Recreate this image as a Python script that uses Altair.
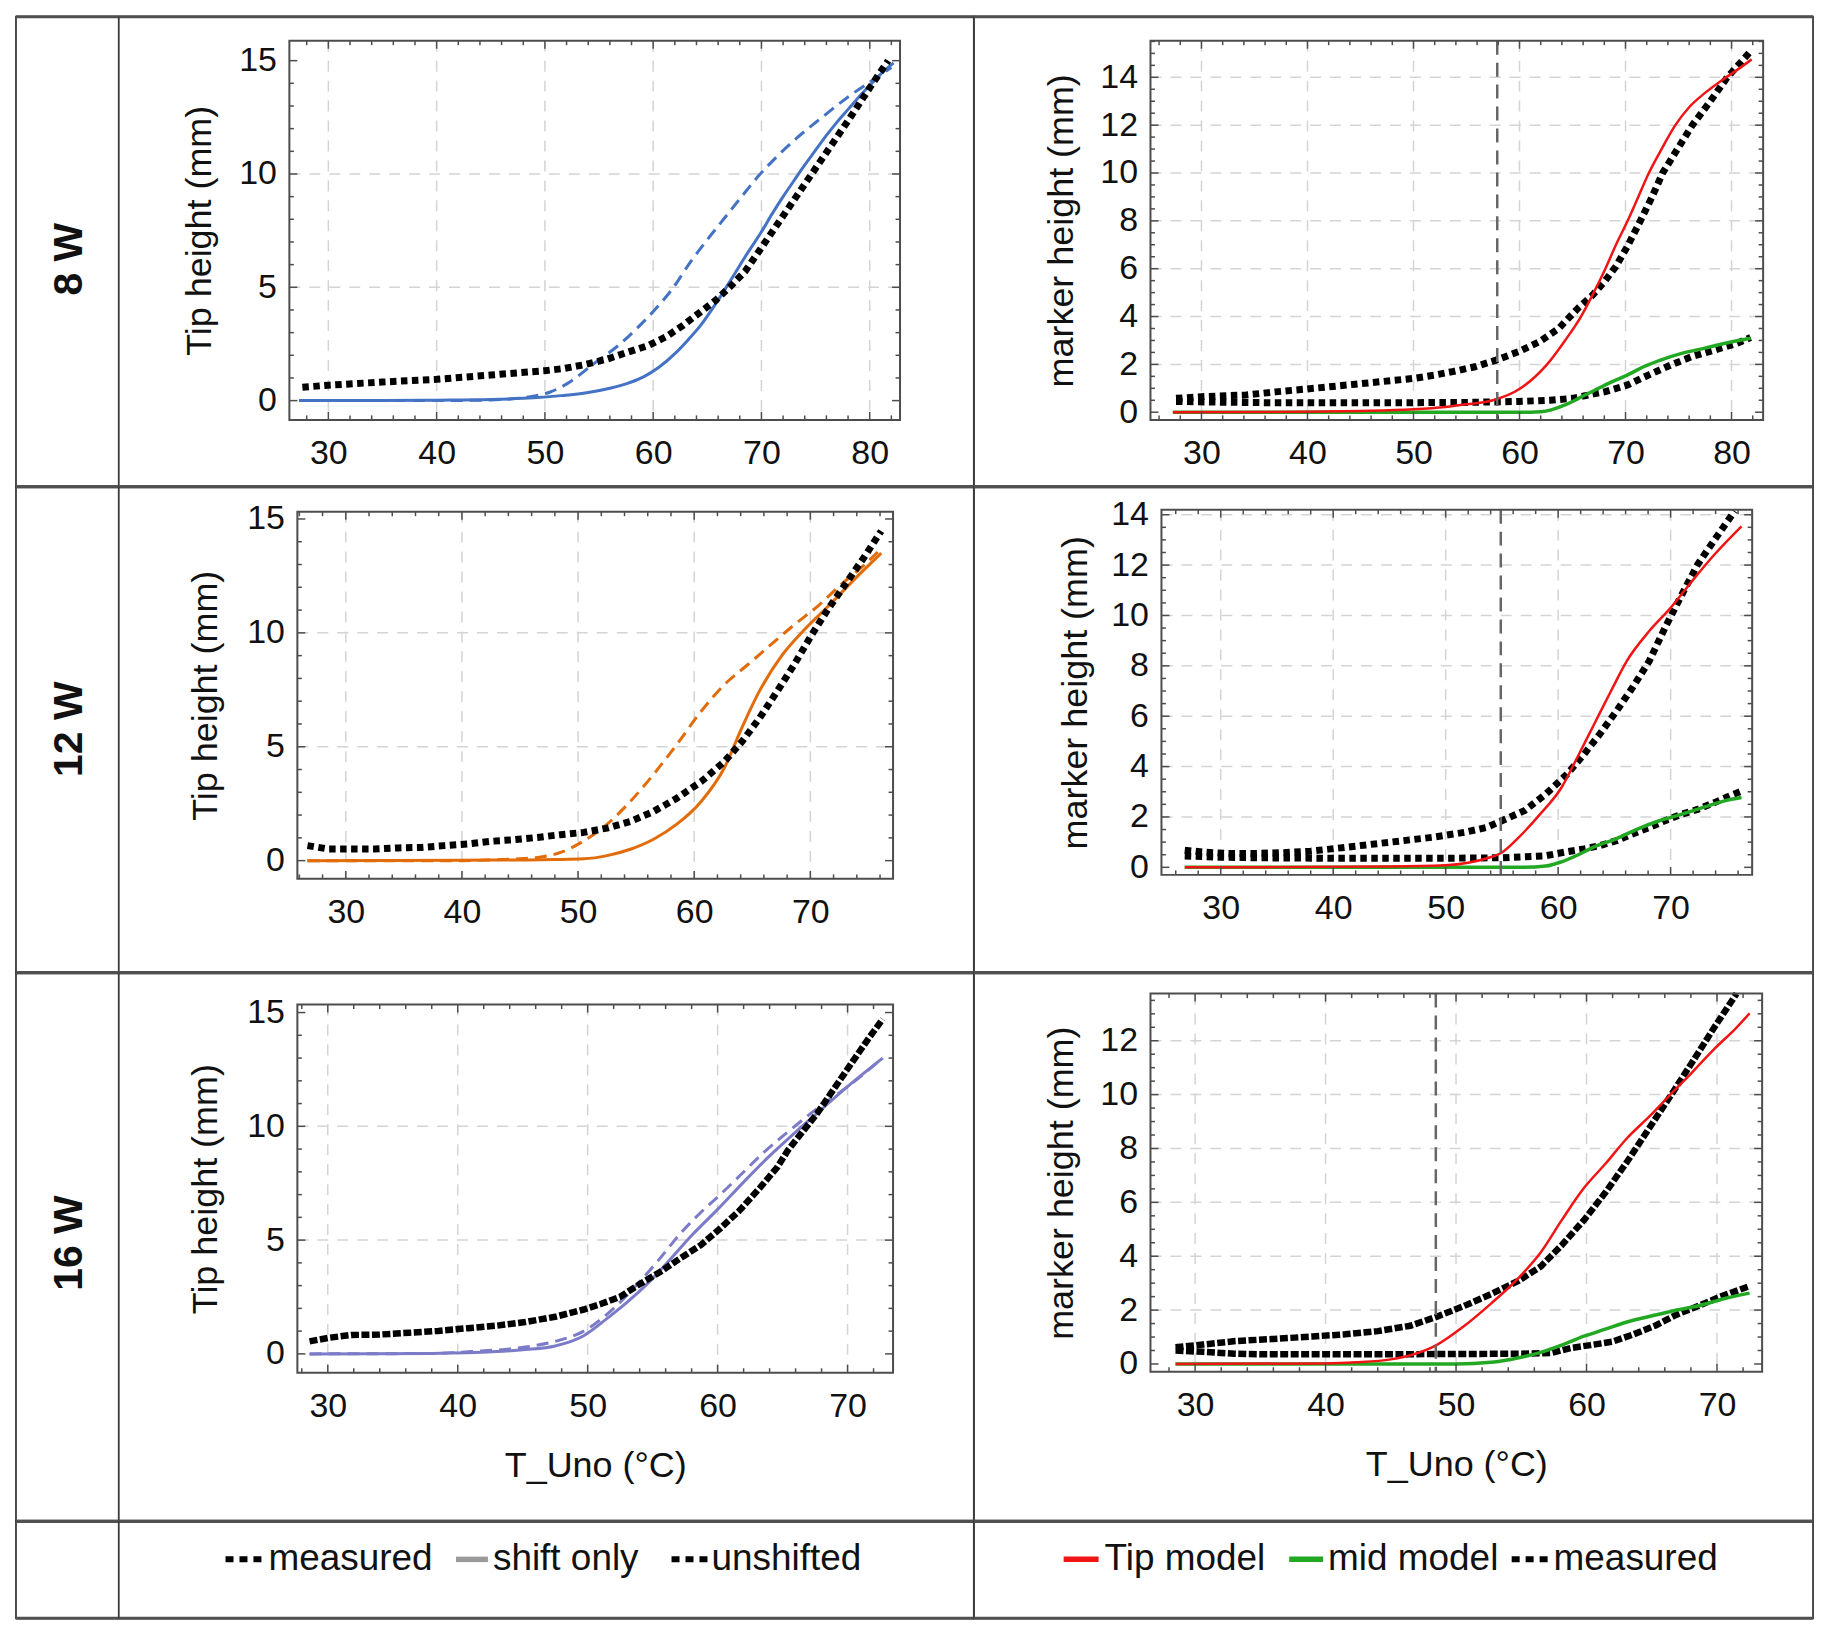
import altair as alt
import pandas as pd

FONT = "Liberation Sans"
INK = "#111111"
FRAME = "#4d4d4d"
TABLE = "#3a3a3a"
GRID = "#d4d4d4"
BLUE = "#4472C4"
ORANGE = "#E26B0A"
PURPLE = "#7B7BC8"
RED = "#F01414"
GREEN = "#22A822"
VLINE = "#666666"

# ---------------- row labels / legend text ----------------
ROW_LABELS = ["8 W", "12 W", "16 W"]
LEFT_LEGEND = ["measured", "shift only", "unshifted"]
RIGHT_LEGEND = ["Tip model", "mid model", "measured"]

# ---------------- tick labels ----------------
XLAB_8 = [30, 40, 50, 60, 70, 80]
XLAB_12 = [30, 40, 50, 60, 70]
XLAB_16 = [30, 40, 50, 60, 70]
YLAB_TIP = [0, 5, 10, 15]
YLAB_MARK14 = [0, 2, 4, 6, 8, 10, 12, 14]
YLAB_MARK12 = [0, 2, 4, 6, 8, 10, 12]

# ---------------- 8 W ----------------
T8L_meas = [27.6, 30, 35, 40, 45, 50, 51.8, 53.8, 55.8, 57.6, 59.5, 61.2, 62.7, 64.2, 65.8, 67.1, 68.5, 70, 72, 74, 76, 78, 80, 81.7]
H8L_meas = [0.59, 0.68, 0.82, 0.94, 1.13, 1.32, 1.42, 1.6, 1.84, 2.13, 2.42, 2.82, 3.3, 3.85, 4.44, 5.02, 5.71, 6.75, 8.15, 9.55, 10.95, 12.35, 13.8, 15.0]
T8_shift = [27.3, 35, 40, 45, 48, 51.5, 54, 56.1, 57.5, 59.15, 60.5, 62.2, 63.3, 64.4, 65.9, 67.4, 68.7, 70, 71, 72, 73, 74, 75, 76, 77, 78, 79, 80, 81, 82.2]
H8_shift = [0, 0, 0.02, 0.05, 0.1, 0.22, 0.36, 0.56, 0.74, 1.06, 1.46, 2.16, 2.72, 3.33, 4.36, 5.5, 6.5, 7.45, 8.25, 9.0, 9.7, 10.4, 11.05, 11.7, 12.3, 12.85, 13.4, 13.9, 14.4, 14.9]
T8_unsh = [27.3, 40, 45, 47, 49, 50.5, 52.1, 54.55, 57, 58.5, 60.4, 61.8, 63.45, 65, 66.5, 68, 69.8, 71.5, 73.3, 75.6, 78, 80.3, 82]
H8_unsh = [0, 0, 0.03, 0.08, 0.2, 0.38, 0.76, 1.64, 2.52, 3.19, 4.14, 4.95, 6.12, 7.1, 8.0, 8.9, 9.95, 10.8, 11.6, 12.5, 13.4, 14.15, 14.7]

T8R_tip = [27.6, 30, 34.2, 37, 39.9, 42, 44.5, 47, 50.1, 52, 53.7, 55.8, 57.8, 59.9, 61.9, 63.7, 65.5, 66.9, 68, 69.1, 70.2, 71.4, 72.5, 73.5, 74.9, 76.3, 78, 79.6, 81.7]
H8R_tip = [0.58, 0.65, 0.72, 0.85, 0.97, 1.06, 1.17, 1.28, 1.42, 1.55, 1.7, 1.9, 2.18, 2.53, 2.95, 3.5, 4.34, 4.9, 5.45, 6.1, 6.95, 8.0, 9.0, 10.0, 11.0, 12.0, 13.0, 14.0, 15.04]
T8R_mid = [27.6, 32, 36, 40, 45, 50, 55, 59.9, 62.9, 65, 66.5, 68.1, 70.2, 72.2, 74.3, 76.3, 78.4, 80.5, 81.8]
H8R_mid = [0.45, 0.42, 0.4, 0.4, 0.4, 0.4, 0.41, 0.45, 0.5, 0.58, 0.72, 0.86, 1.14, 1.56, 1.98, 2.33, 2.6, 2.88, 3.12]
T8R_tipm = [27.3, 40, 45, 50, 53, 55, 57.5, 60.1, 62.6, 64.3, 65.8, 67, 68.1, 69.1, 70.2, 71.2, 72.2, 73.4, 74.7, 76, 77.5, 79, 80.5, 81.9]
H8R_tipm = [0, 0.02, 0.05, 0.12, 0.22, 0.33, 0.5, 1.0, 2.0, 3.0, 4.0, 5.0, 6.0, 7.0, 8.0, 9.0, 10.0, 11.0, 12.0, 12.75, 13.35, 13.85, 14.3, 14.75]
T8R_midm = [27.3, 55, 61, 62, 63, 64, 65, 66, 67, 68.6, 70.2, 71.7, 73.3, 75.3, 77.4, 79.4, 81.8]
H8R_midm = [0, 0, 0, 0.02, 0.1, 0.25, 0.45, 0.68, 0.9, 1.25, 1.56, 1.9, 2.18, 2.46, 2.67, 2.88, 3.09]
V8 = [57.9]

# ---------------- 12 W ----------------
T12L_meas = [26.7, 28.5, 30.5, 32.5, 34.5, 36.5, 38.5, 40.5, 42.5, 44.5, 46.5, 48.5, 50.5, 52.5, 54.5, 56.5, 58.5, 60.6, 62.6, 64.1, 65.6, 67.1, 68.6, 70.1, 71.6, 73.1, 74.6, 76.1]
H12L_meas = [0.66, 0.51, 0.51, 0.51, 0.56, 0.58, 0.66, 0.73, 0.85, 0.92, 1.02, 1.14, 1.24, 1.43, 1.72, 2.16, 2.74, 3.47, 4.35, 5.22, 6.24, 7.4, 8.6, 9.9, 11.1, 12.2, 13.3, 14.47]
T12_shift = [26.7, 40, 45, 48, 50.5, 52.5, 54.5, 56.5, 58.5, 60.6, 62.6, 64.1, 65.6, 67.6, 69.6, 71.6, 73.6, 76.1]
H12_shift = [0, 0.02, 0.03, 0.05, 0.08, 0.22, 0.5, 0.94, 1.6, 2.6, 4.08, 5.83, 7.43, 9.04, 10.2, 11.2, 12.25, 13.5]
T12_unsh = [26.7, 40, 42.5, 44.5, 46.5, 48.5, 50.5, 52.5, 54.5, 56.5, 58.5, 60.6, 62.6, 64.6, 66.6, 68.6, 70.7, 72.6, 74.6, 75.8]
H12_unsh = [0, 0, 0.03, 0.07, 0.14, 0.36, 0.87, 1.6, 2.6, 3.79, 5.1, 6.56, 7.73, 8.6, 9.48, 10.35, 11.2, 12.1, 12.96, 13.55]

T12R_tip = [26.8, 28.5, 30.5, 33, 35.5, 38, 41, 44.9, 48.8, 51.7, 53.6, 55.0, 57.0, 58.9, 60.8, 62.3, 63.7, 65.2, 66.6, 68.1, 69.5, 71.0, 72.4, 73.9, 75.7]
H12R_tip = [0.68, 0.6, 0.55, 0.55, 0.58, 0.64, 0.79, 0.99, 1.19, 1.39, 1.58, 1.85, 2.25, 2.91, 3.7, 4.49, 5.29, 6.21, 7.13, 8.19, 9.51, 10.83, 12.02, 13.0, 14.15]
T12R_mid = [26.8, 30, 35, 40, 45, 50, 55, 58.9, 60.8, 62.3, 63.7, 65.2, 66.6, 68.1, 69.5, 71.0, 72.4, 73.9, 75.6, 76.4]
H12R_mid = [0.45, 0.4, 0.37, 0.36, 0.36, 0.36, 0.38, 0.46, 0.62, 0.73, 0.86, 1.06, 1.32, 1.58, 1.85, 2.11, 2.3, 2.57, 2.9, 3.04]
T12R_tipm = [26.8, 45, 50, 52, 53.6, 55.0, 56.5, 58.4, 60.3, 61.7, 63.2, 64.7, 66.1, 68.1, 70.0, 71.9, 73.9, 76.3]
H12R_tipm = [0, 0.03, 0.08, 0.18, 0.35, 0.59, 1.19, 2.11, 3.17, 4.36, 5.68, 7.0, 8.19, 9.38, 10.3, 11.36, 12.42, 13.54]
T12R_midm = [26.8, 50, 57, 58.9, 60.3, 61.7, 63.2, 65.2, 67.1, 69.0, 71.0, 72.9, 74.8, 76.3]
H12R_midm = [0, 0, 0, 0.05, 0.22, 0.48, 0.81, 1.14, 1.53, 1.85, 2.11, 2.38, 2.64, 2.77]
V12 = [54.9]

# ---------------- 16 W ----------------
T16L_meas = [28.6, 30.0, 31.8, 34.0, 36.3, 38.5, 40.8, 43.0, 45.2, 47.5, 49.7, 51.0, 52.5, 54.1, 55.6, 57.1, 58.7, 60.2, 61.7, 63.3, 64.6, 65.4, 67.7, 69.9, 71.7, 72.7]
H16L_meas = [0.55, 0.7, 0.83, 0.85, 0.93, 1.01, 1.13, 1.24, 1.4, 1.63, 1.95, 2.19, 2.51, 3.1, 3.61, 4.19, 4.78, 5.51, 6.31, 7.33, 8.21, 8.94, 10.6, 12.44, 13.93, 14.71]
T16_shift = [28.6, 38, 43.0, 45.2, 47.5, 49.7, 51.5, 53.0, 54.8, 56.5, 58.0, 60.0, 62.0, 64.0, 66.0, 68.0, 69.9, 72.7]
H16_shift = [0, 0.02, 0.1, 0.19, 0.35, 0.8, 1.56, 2.25, 3.2, 4.25, 5.2, 6.35, 7.55, 8.7, 9.75, 10.75, 11.7, 13.0]
T16_unsh = [28.6, 38, 41, 45.2, 47.5, 49.7, 52.0, 54.2, 55.35, 57.15, 58.68, 60.2, 61.74, 63.55, 65.4, 67.7, 69.9, 72.7]
H16_unsh = [0, 0.02, 0.1, 0.3, 0.55, 1.0, 2.0, 3.3, 4.05, 5.3, 6.2, 7.0, 7.85, 8.85, 9.75, 10.8, 11.7, 13.0]

T16R_tip = [28.5, 30.6, 33.1, 36.0, 39.0, 41.5, 44.0, 46.5, 48.5, 50.6, 52.7, 54.8, 56.5, 58.1, 59.8, 61.5, 63.1, 64.8, 66.5, 68.1, 69.8, 71.5]
H16R_tip = [0.62, 0.72, 0.85, 0.93, 1.02, 1.1, 1.22, 1.42, 1.75, 2.15, 2.6, 3.09, 3.62, 4.41, 5.34, 6.4, 7.5, 8.75, 10.0, 11.2, 12.5, 13.75]
T16R_mid = [28.5, 30.6, 33, 35, 40, 45, 50, 55, 57.3, 58.9, 60.3, 62.0, 63.6, 65.3, 66.9, 68.6, 70.2, 72.5]
H16R_mid = [0.5, 0.45, 0.38, 0.36, 0.36, 0.36, 0.37, 0.38, 0.41, 0.6, 0.7, 0.83, 1.1, 1.43, 1.83, 2.16, 2.49, 2.89]
T16R_tipm = [28.5, 40, 42.3, 45.0, 46.7, 48.5, 50.6, 52.7, 54.8, 56.5, 58.1, 59.8, 61.5, 63.1, 64.8, 66.5, 68.1, 69.8, 71.5, 72.5]
H16R_tipm = [0, 0.02, 0.06, 0.17, 0.35, 0.7, 1.4, 2.25, 3.2, 4.15, 5.34, 6.53, 7.46, 8.38, 9.18, 10.04, 10.83, 11.7, 12.49, 13.02]
T16R_midm = [28.5, 45, 50, 52.7, 54.8, 56.5, 58.1, 59.8, 61.5, 63.1, 64.8, 66.5, 68.6, 70.6, 72.5]
H16R_midm = [0, 0, 0, 0.06, 0.23, 0.43, 0.7, 1.03, 1.3, 1.56, 1.76, 1.96, 2.16, 2.43, 2.63]
V16 = [48.45]


def minor_ticks(lo, hi, step, major_step):
    out = []
    k = int(lo // step) - 1
    while k * step < hi + step:
        v = round(k * step, 3)
        if lo < v < hi and abs(v / major_step - round(v / major_step)) > 1e-6:
            out.append(v)
        k += 1
    return out


def series(xs, ys, X, Y, color, width, dash=None, interp="monotone"):
    kw = dict(color=color, strokeWidth=width, interpolate=interp)
    if dash:
        kw["strokeDash"] = dash
    return alt.Chart(pd.DataFrame({"x": xs, "y": ys})).mark_line(**kw).encode(x=X, y=Y)


def table_edges(CW, H, divider):
    """Heavier horizontal table rules and the label-column divider of a cell."""
    d = pd.DataFrame({"a": [0]})
    out = [
        alt.Chart(d).mark_rule(color="#505050", strokeWidth=3.2).encode(
            x=alt.value(0), x2=alt.value(CW), y=alt.value(0)),
        alt.Chart(d).mark_rule(color="#505050", strokeWidth=3.2).encode(
            x=alt.value(0), x2=alt.value(CW), y=alt.value(H)),
    ]
    if divider:
        out.append(alt.Chart(d).mark_rule(color=TABLE, strokeWidth=1.8).encode(
            x=alt.value(103), y=alt.value(0), y2=alt.value(H)))
    return out


def row_label(label, label_y):
    return [alt.Chart(pd.DataFrame({"t": [label]})).mark_text(
        font=FONT, fontSize=41, fontWeight="bold", angle=270, align="center",
        baseline="middle", color=INK).encode(
        text="t:N", x=alt.value(54), y=alt.value(label_y))]


def panel(CW, CH, box, xdom, ydom, xlab, ylab, ymaj_step, ymin_step, ygrid,
          ytitle, ytx, xtitle, draw, extras=(), divider=False):
    x0, x1, y0, y1 = box
    xs = alt.Scale(domain=xdom, range=[x0, x1], nice=False, zero=False)
    ys = alt.Scale(domain=ydom, range=[y1, y0], nice=False, zero=False)
    common = dict(grid=False, ticks=False, tickSize=0, domain=False, labelFont=FONT,
                  labelFontSize=34, labelColor=INK, labelFlush=False,
                  labelOverlap=False, format="d")
    ttl = dict(titleFont=FONT, titleFontSize=36, titleFontWeight="normal", titleColor=INK,
               titleAlign="center", titleBaseline="middle")
    if xtitle:
        ax = alt.Axis(values=xlab, labelPadding=17, offset=-(CH - y1), title=xtitle,
                      titleX=(x0 + x1) / 2, titleY=93, **ttl, **common)
    else:
        ax = alt.Axis(values=xlab, labelPadding=17, offset=-(CH - y1), title=None,
                      **common)
    ay = alt.Axis(values=ylab, labelPadding=13, offset=-x0, title=ytitle, titleX=ytx,
                  titleY=(y0 + y1) / 2, titleAngle=270, **ttl, **common)
    X = alt.X("x:Q", scale=xs, axis=ax)
    Y = alt.Y("y:Q", scale=ys, axis=ay)

    gstyle = dict(color=GRID, strokeWidth=1.5, strokeDash=[11, 9])
    layers = [
        alt.Chart(pd.DataFrame({"x": xlab})).mark_rule(**gstyle).encode(
            x=X, y=alt.value(y0), y2=alt.value(y1)),
        alt.Chart(pd.DataFrame({"y": ygrid})).mark_rule(**gstyle).encode(
            y=Y, x=alt.value(x0), x2=alt.value(x1)),
    ]
    layers += draw(X, Y, y0, y1)

    xmin = minor_ticks(xdom[0], xdom[1], 2, 10)
    ymin = minor_ticks(ydom[0], ydom[1], ymin_step, ymaj_step)
    for vals, L in ((xlab, 8), (xmin, 4.5)):
        b = alt.Chart(pd.DataFrame({"x": vals})).mark_rule(color=FRAME, strokeWidth=1.5)
        layers.append(b.encode(x=X, y=alt.value(y1), y2=alt.value(y1 - L)))
        layers.append(b.encode(x=X, y=alt.value(y0), y2=alt.value(y0 + L)))
    for vals, L in ((ylab, 8), (ymin, 4.5)):
        b = alt.Chart(pd.DataFrame({"y": vals})).mark_rule(color=FRAME, strokeWidth=1.5)
        layers.append(b.encode(y=Y, x=alt.value(x0), x2=alt.value(x0 + L)))
        layers.append(b.encode(y=Y, x=alt.value(x1), x2=alt.value(x1 - L)))
    layers.append(alt.Chart(pd.DataFrame({"a": [0]})).mark_rect(
        filled=False, stroke=FRAME, strokeWidth=2).encode(
        x=alt.value(x0), x2=alt.value(x1), y=alt.value(y0), y2=alt.value(y1)))
    layers += list(extras)
    layers += table_edges(CW, CH, divider)

    return alt.layer(*layers).properties(
        width=CW, height=CH, view=alt.ViewBackground(stroke=TABLE, strokeWidth=1.8))


MDASH = [6.5, 4.5]
MW = 7


def left_draw(meas, shift, unsh, color, mdash, mwidth):
    def f(X, Y, y0, y1):
        return [
            series(unsh[0], unsh[1], X, Y, color, 3, dash=[12, 7]),
            series(shift[0], shift[1], X, Y, color, 3),
            series(meas[0], meas[1], X, Y, "#000000", mwidth, dash=mdash, interp="linear"),
        ]
    return f


def right_draw(tip, mid, tipm, midm, vline, mdash, mwidth):
    def f(X, Y, y0, y1):
        return [
            series(tip[0], tip[1], X, Y, "#000000", mwidth, dash=mdash, interp="linear"),
            series(mid[0], mid[1], X, Y, "#000000", mwidth, dash=mdash, interp="linear"),
            series(midm[0], midm[1], X, Y, GREEN, 3.5),
            series(tipm[0], tipm[1], X, Y, RED, 2.5),
            alt.Chart(pd.DataFrame({"x": vline})).mark_rule(
                color=VLINE, strokeWidth=2.5, strokeDash=[14, 8]).encode(
                x=X, y=alt.value(y0), y2=alt.value(y1)),
        ]
    return f


LW, RW = 960, 841          # cell widths (left incl. label column, right)
H1, H2, H3, H4 = 471, 487, 550, 97

c1L = panel(LW, H1, (274, 886, 24, 404), [26.4, 82.8], [-0.85, 15.88], XLAB_8, YLAB_TIP,
            5, 1, [5, 10], "Tip height (mm)", -90, None,
            left_draw((T8L_meas, H8L_meas), (T8_shift, H8_shift), (T8_unsh, H8_unsh),
                      BLUE, MDASH, MW),
            row_label(ROW_LABELS[0], 243), divider=True)
c1R = panel(RW, H1, (177, 791, 24, 404), [25.19, 82.98], [-0.32, 15.53], XLAB_8,
            YLAB_MARK14, 2, 0.5, [2, 4, 6, 8, 10, 12, 14], "marker height (mm)", -89, None,
            right_draw((T8R_tip, H8R_tip), (T8R_mid, H8R_mid), (T8R_tipm, H8R_tipm),
                       (T8R_midm, H8R_midm), V8, MDASH, MW))
c2L = panel(LW, H2, (282, 879, 25, 393), [25.83, 77.12], [-0.8, 15.32], XLAB_12, YLAB_TIP,
            5, 1, [5, 10], "Tip height (mm)", -92, None,
            left_draw((T12L_meas, H12L_meas), (T12_shift, H12_shift), (T12_unsh, H12_unsh),
                      ORANGE, MDASH, MW),
            row_label(ROW_LABELS[1], 243), divider=True)
c2R = panel(RW, H2, (188, 780, 23, 389), [24.73, 77.25], [-0.3, 14.2], XLAB_12,
            YLAB_MARK14, 2, 0.5, [2, 4, 6, 8, 10, 12, 14], "marker height (mm)", -86, None,
            right_draw((T12R_tip, H12R_tip), (T12R_mid, H12R_mid), (T12R_tipm, H12R_tipm),
                       (T12R_midm, H12R_midm), V12, MDASH, MW))
c3L = panel(LW, H3, (282, 879, 32, 401), [27.66, 73.5], [-0.83, 15.35], XLAB_16, YLAB_TIP,
            5, 1, [5, 10], "Tip height (mm)", -92, "T_Uno (°C)",
            left_draw((T16L_meas, H16L_meas), (T16_shift, H16_shift), (T16_unsh, H16_unsh),
                      PURPLE, [8, 2.5], 6.5),
            row_label(ROW_LABELS[2], 271), divider=True)
c3R = panel(RW, H3, (177, 790, 21, 400), [26.58, 73.46], [-0.29, 13.75], XLAB_16,
            YLAB_MARK12, 2, 0.5, [2, 4, 6, 8, 10, 12], "marker height (mm)", -89,
            "T_Uno (°C)",
            right_draw((T16R_tip, H16R_tip), (T16R_mid, H16R_mid), (T16R_tipm, H16R_tipm),
                       (T16R_midm, H16R_midm), V16, [8, 2.5], 6.5))

# ---------------- legend cells ----------------
LEG_Y = 38
PX = alt.X("x:Q", scale=None, axis=None)


def legend_cell(CW, names, text_x, solid, dashed, divider):
    layers = []
    layers.append(alt.Chart(pd.DataFrame({"x": text_x, "t": names})).mark_text(
        font=FONT, fontSize=37, align="left", baseline="middle", color=INK).encode(
        x=PX, y=alt.value(LEG_Y), text="t:N"))
    if solid:
        layers.append(alt.Chart(pd.DataFrame(solid)).mark_rule(strokeWidth=5.5).encode(
            x=PX, x2="x2:Q", y=alt.value(LEG_Y),
            color=alt.Color("c:N", scale=None, legend=None)))
    if dashed:
        layers.append(alt.Chart(pd.DataFrame(dashed)).mark_rule(
            strokeWidth=6, color="#000000", strokeDash=[8, 6]).encode(
            x=PX, x2="x2:Q", y=alt.value(LEG_Y)))
    layers += table_edges(CW, H4, divider)
    return alt.layer(*layers).properties(
        width=CW, height=H4, view=alt.ViewBackground(stroke=TABLE, strokeWidth=1.8))


legL = legend_cell(LW, LEFT_LEGEND, [253, 478, 697],
                   {"x": [441], "x2": [473], "c": ["#9a9a9a"]},
                   {"x": [210, 657], "x2": [246, 693]}, True)
legR = legend_cell(RW, RIGHT_LEGEND, [131, 355, 581],
                   {"x": [90, 316], "x2": [125, 350], "c": [RED, GREEN]},
                   {"x": [539], "x2": [575]}, False)

chart = alt.concat(c1L, c1R, c2L, c2R, c3L, c3R, legL, legR, columns=2, spacing=0,
                   bounds="flush", align="each").properties(
    padding={"left": 5, "top": 4, "right": 5, "bottom": 5}).configure(
    font=FONT, view=alt.ViewConfig(strokeWidth=0))

chart.save("out.html", embed_options={"renderer": "svg", "actions": False})
